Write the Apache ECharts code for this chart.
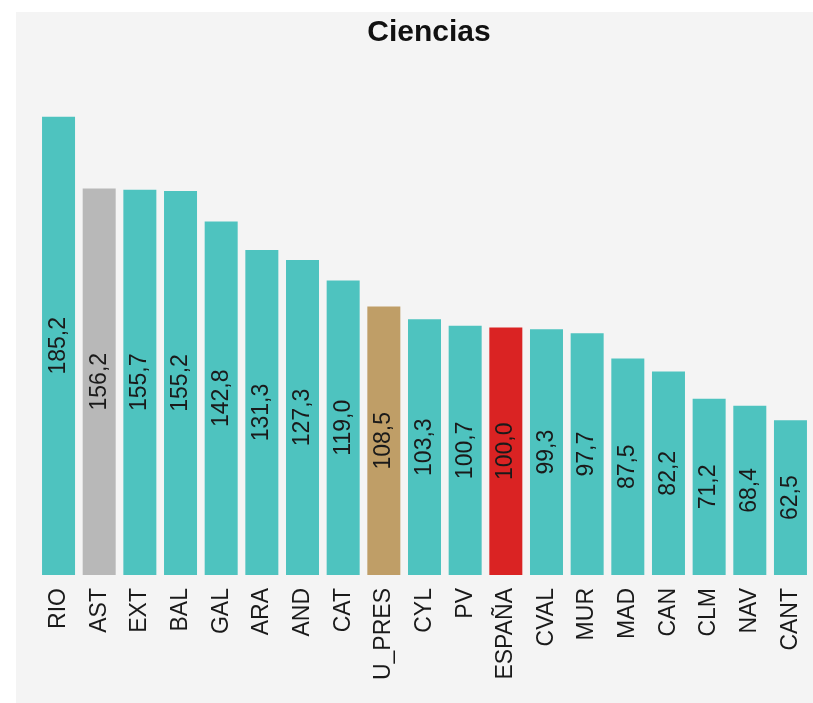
<!DOCTYPE html>
<html>
<head>
<meta charset="utf-8">
<script src="https://cdn.jsdelivr.net/npm/echarts@6/dist/echarts.min.js"></script>
<style>
html,body{margin:0;padding:0;background:#ffffff;width:813px;height:703px;overflow:hidden;}
#chart{position:absolute;left:16px;top:12px;width:797px;height:691px;background:#f4f4f4;}
</style>
</head>
<body>
<div id="chart"></div>
<script>
const categories = ["RIO","AST","EXT","BAL","GAL","ARA","AND","CAT","U_PRES","CYL","PV","ESPAÑA","CVAL","MUR","MAD","CAN","CLM","NAV","CANT"];
const values = [185.2,156.2,155.7,155.2,142.8,131.3,127.3,119.0,108.5,103.3,100.7,100.0,99.3,97.7,87.5,82.2,71.2,68.4,62.5];
const specialColors = {"AST":"#b8b8b8","U_PRES":"#bf9e67","ESPAÑA":"#da2323"};
const baseColor = "#4ec3bf";

const chart = echarts.init(document.getElementById('chart'), null, {renderer:'canvas'});
const data = categories.map((c,i)=>({value:values[i], itemStyle:{color: specialColors[c] || baseColor}}));
chart.setOption({
  backgroundColor:'#f4f4f4',
  animation:false,
  title:{
    text:'Ciencias',
    left:408, top:1, textAlign:'center',
    textStyle:{fontFamily:'Liberation Sans, Arial, sans-serif', fontSize:30, fontWeight:'bold', color:'#111111'}
  },
  grid:{left:22.2, right:2.2, top:68, bottom:128, containLabel:false},
  xAxis:{
    type:'category', data:categories,
    axisLine:{show:false}, axisTick:{show:false},
    axisLabel:{rotate:90, interval:0, margin:13, fontSize:23, color:'#1a1a1a', fontFamily:'Liberation Sans, Arial, sans-serif'}
  },
  yAxis:{type:'value', min:0, max:200, show:false, splitLine:{show:false}},
  series:[{
    type:'bar', data:data, barWidth:33,
    label:{
      show:true, position:'inside', rotate:90,
      fontSize:23, color:'#1a1a1a', fontFamily:'Liberation Sans, Arial, sans-serif',
      formatter:p=>p.value.toFixed(1).replace('.',',')
    }
  }]
});
</script>
</body>
</html>
